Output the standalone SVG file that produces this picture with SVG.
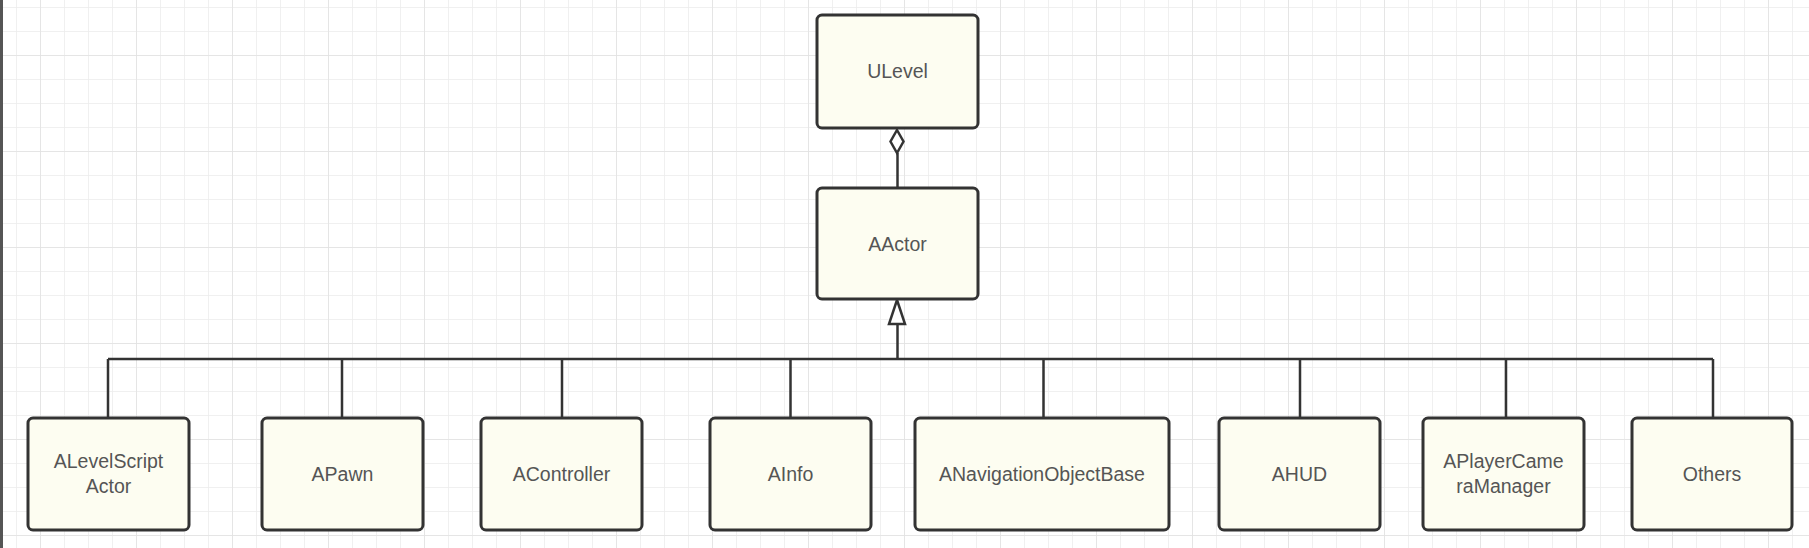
<svg xmlns="http://www.w3.org/2000/svg" width="1809" height="548" viewBox="0 0 1809 548">
<defs>
<pattern id="minor" x="16" y="7" width="24" height="24" patternUnits="userSpaceOnUse">
<path d="M0 0H24M0 0V24" fill="none" stroke="#ececec" stroke-width="1.5"/>
</pattern>
<pattern id="major" x="40" y="55" width="96" height="96" patternUnits="userSpaceOnUse">
<path d="M0 0H96M0 0V96" fill="none" stroke="#e2e2e2" stroke-width="1.5"/>
</pattern>
</defs>
<style>
.box{fill:#fdfdf1;stroke:#333;stroke-width:3}
.lbl{font-family:"Liberation Sans",Arial,sans-serif;font-size:19.5px;fill:#555;text-anchor:middle}
.ln{fill:none;stroke:#333;stroke-width:2.5}
</style>
<rect width="1809" height="548" fill="#fff"/>
<rect width="1809" height="548" fill="url(#minor)"/>
<rect width="1809" height="548" fill="url(#major)"/>
<rect x="0" y="0" width="3" height="548" fill="#555"/>

<g id="connectors">
<path class="ln" d="M897.5 153V188"/>
<path d="M897 130L903.5 141.5L897 153L890.5 141.5Z" fill="#fff" stroke="#333" stroke-width="2.5"/>
<path class="ln" d="M897.5 324V359" stroke-width="3.5"/>
<path d="M897 300L905 324H889Z" fill="#fff" stroke="#333" stroke-width="2.5"/>
<path class="ln" d="M108 359H1713" stroke-width="3"/>
<path class="ln" d="M108 359V418M342 359V418M562 359V418M790.5 359V418M1043.5 359V418M1300 359V418M1506 359V418M1713 359V418"/>
</g>

<g id="ULevel"><rect class="box" x="817" y="15" width="161" height="113" rx="5"/><text class="lbl" x="897.5" y="78">ULevel</text></g>
<g id="AActor"><rect class="box" x="817" y="188" width="161" height="111" rx="5"/><text class="lbl" x="897.5" y="250.5">AActor</text></g>

<g id="ALevelScriptActor"><rect class="box" x="28" y="418" width="161" height="112" rx="5"/><text class="lbl" x="108.5" y="467.5">ALevelScript</text><text class="lbl" x="108.5" y="492.5">Actor</text></g>
<g id="APawn"><rect class="box" x="262" y="418" width="161" height="112" rx="5"/><text class="lbl" x="342.5" y="481">APawn</text></g>
<g id="AController"><rect class="box" x="481" y="418" width="161" height="112" rx="5"/><text class="lbl" x="561.5" y="481">AController</text></g>
<g id="AInfo"><rect class="box" x="710" y="418" width="161" height="112" rx="5"/><text class="lbl" x="790.5" y="481">AInfo</text></g>
<g id="ANavigationObjectBase"><rect class="box" x="915" y="418" width="254" height="112" rx="5"/><text class="lbl" x="1042" y="481">ANavigationObjectBase</text></g>
<g id="AHUD"><rect class="box" x="1219" y="418" width="161" height="112" rx="5"/><text class="lbl" x="1299.5" y="481">AHUD</text></g>
<g id="APlayerCameraManager"><rect class="box" x="1423" y="418" width="161" height="112" rx="5"/><text class="lbl" x="1503.5" y="467.5">APlayerCame</text><text class="lbl" x="1503.5" y="492.5">raManager</text></g>
<g id="Others"><rect class="box" x="1632" y="418" width="160" height="112" rx="5"/><text class="lbl" x="1712" y="481">Others</text></g>
</svg>
